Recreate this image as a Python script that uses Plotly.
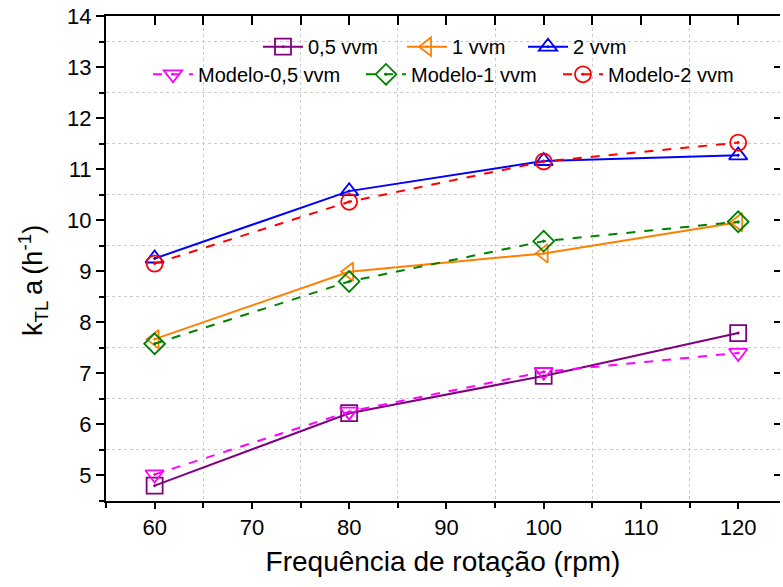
import plotly.graph_objects as go

rpm = [60, 80, 100, 120]
exp_05 = [4.80, 6.22, 6.95, 7.79]
exp_1 = [7.67, 8.99, 9.35, 9.96]
exp_2 = [9.25, 10.57, 11.16, 11.27]
mod_05 = [5.02, 6.25, 7.03, 7.40]
mod_1 = [7.58, 8.80, 9.59, 9.97]
mod_2 = [9.15, 10.36, 11.15, 11.52]

FONT = "Arial, Liberation Sans, sans-serif"

series = [
    ("0,5 vvm", exp_05, "#800080", "square-open-dot", "solid", "legend", 0.2255, 0.977),
    ("1 vvm", exp_1, "#FF8000", "triangle-left-open-dot", "solid", "legend2", 0.4392, 0.977),
    ("2 vvm", exp_2, "#0000FF", "triangle-up-open-dot", "solid", "legend3", 0.6187, 0.977),
    ("Modelo-0,5 vvm", mod_05, "#FF00FF", "triangle-down-open-dot", "dash", "legend4", 0.0623, 0.920),
    ("Modelo-1 vvm", mod_1, "#008000", "diamond-open-dot", "dash", "legend5", 0.3783, 0.920),
    ("Modelo-2 vvm", mod_2, "#FF0000", "circle-open-dot", "dash", "legend6", 0.6706, 0.920),
]

fig = go.Figure()
legends = {}
for name, ys, col, sym, dash, leg, lx, ly in series:
    fig.add_trace(go.Scatter(
        x=rpm, y=ys, name=name, mode="lines+markers",
        line=dict(color=col, width=2, dash=dash),
        marker=dict(symbol=sym, size=16, color=col, line=dict(color=col, width=1.8)),
        legend=leg, cliponaxis=False,
    ))
    legends[leg] = dict(orientation="h", x=lx, y=ly, xanchor="left", yanchor="top",
                        bgcolor="rgba(0,0,0,0)", font=dict(size=20, family=FONT),
                        itemwidth=40, tracegroupgap=0)

xr = [55, 124.3]
yr = [4.5, 14]

fig.update_layout(
    width=783, height=587,
    margin=dict(l=106, r=3, t=16, b=86),
    plot_bgcolor="white", paper_bgcolor="white",
    font=dict(family=FONT, color="black"),
    xaxis=dict(
        range=xr, tick0=60, dtick=10, showgrid=False, zeroline=False,
        showline=True, linecolor="black", linewidth=2,
        ticks="outside", ticklen=6, tickwidth=1.5, tickcolor="black",
        tickfont=dict(size=22, family=FONT),
        title=dict(text="Frequência de rotação (rpm)", font=dict(size=28, family=FONT), standoff=12),
        minor=dict(dtick=5, tick0=55, showgrid=True, griddash="dot", gridcolor="#cccccc",
                   gridwidth=1, ticks="outside", ticklen=5, tickcolor="black"),
    ),
    yaxis=dict(
        range=yr, tick0=5, dtick=1, showgrid=False, zeroline=False,
        showline=True, linecolor="black", linewidth=2,
        ticks="outside", ticklen=8, tickwidth=1.5, tickcolor="black",
        tickfont=dict(size=22, family=FONT),
        minor=dict(dtick=0.5, tick0=4.5, showgrid=True, griddash="dot", gridcolor="#cccccc",
                   gridwidth=1, ticks="outside", ticklen=5, tickcolor="black"),
    ),
    xaxis2=dict(
        overlaying="x", side="top", range=xr, tick0=60, dtick=10, showgrid=False,
        zeroline=False, showline=True, linecolor="black", linewidth=2,
        ticks="inside", ticklen=9, tickwidth=1.5, tickcolor="black", showticklabels=False,
        minor=dict(dtick=5, tick0=55, ticks="inside", ticklen=9, tickcolor="black", showgrid=False),
    ),
    yaxis2=dict(
        overlaying="y", side="right", range=yr, tick0=5, dtick=1, showgrid=False,
        zeroline=False, showline=False,
        ticks="inside", ticklen=6, tickwidth=1.5, tickcolor="black", showticklabels=False,
    ),
    **legends,
)

fig.add_annotation(
    text="k<sub>TL</sub>\u2009a\u2009(h<sup>-1</sup>)", textangle=-90,
    xref="paper", yref="paper", x=(33 - 106) / 674, y=(501 - 281) / 485,
    xanchor="center", yanchor="middle", showarrow=False,
    font=dict(size=27, family=FONT, color="black"),
)

# dummy trace to anchor secondary axes
fig.add_trace(go.Scatter(x=[None], y=[None], xaxis="x2", yaxis="y2", showlegend=False,
                         hoverinfo="skip"))

fig.write_html("out.html")
